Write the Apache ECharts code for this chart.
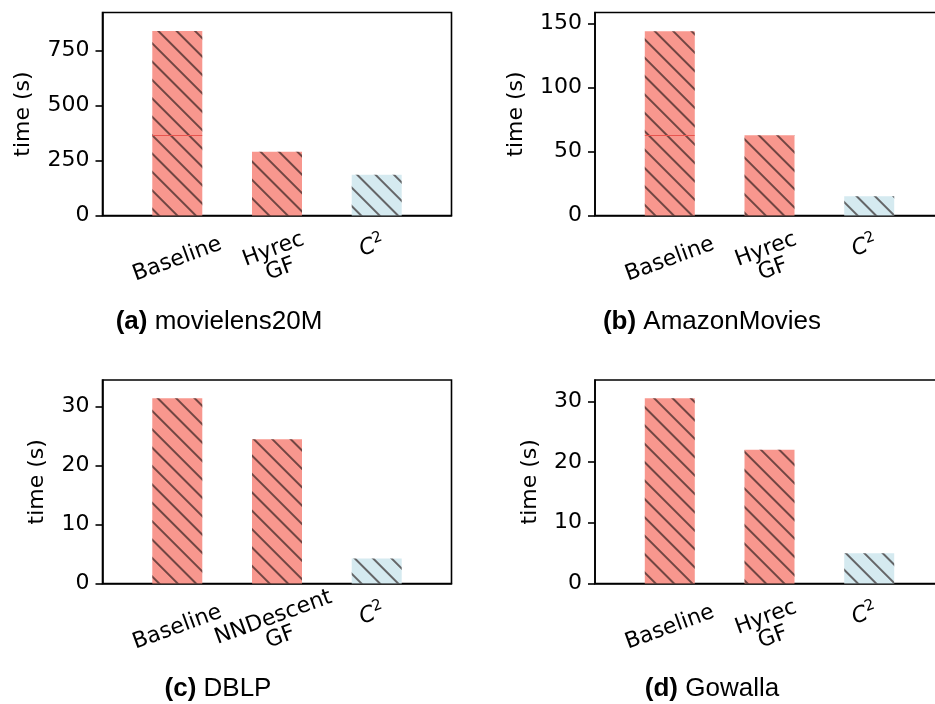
<!DOCTYPE html>
<html>
<head>
<meta charset="utf-8">
<script src="https://cdn.jsdelivr.net/npm/echarts@6/dist/echarts.min.js"></script>
<style>html,body{margin:0;padding:0;background:#fff}#c{width:935px;height:704px}</style>
</head>
<body>
<div id="c"></div>
<script>
// ---- data ----
const categoriesA = ['Baseline', 'Hyrec\nGF', 'C2'];
const categoriesB = ['Baseline', 'Hyrec\nGF', 'C2'];
const categoriesC = ['Baseline', 'NNDescent\nGF', 'C2'];
const categoriesD = ['Baseline', 'Hyrec\nGF', 'C2'];
const valuesA = [840, 290, 185];
const valuesB = [144, 62.7, 15.1];
const valuesC = [31.4, 24.45, 4.24];
const valuesD = [30.5, 22.0, 5.0];
const baselineSplitA = 365;
const baselineSplitB = 62.7;
const yTicksA = [0, 250, 500, 750];
const yTicksB = [0, 50, 100, 150];
const yTicksC = [0, 10, 20, 30];
const yTicksD = [0, 10, 20, 30];
const yMaxA = 924, yMaxB = 158.6, yMaxC = 34.5, yMaxD = 33.5;
const captionTags = ['(a)', '(b)', '(c)', '(d)'];
const captionNames = ['movielens20M', 'AmazonMovies', 'DBLP', 'Gowalla'];
const yAxisTitle = 'time (s)';

// ---- styles ----
const SALMON = '#f8978e';
const LIGHTBLUE = '#d5eaf0';
const FONT = '"DejaVu Sans"';
const FS = 22;
const hatch = {
  symbol: 'rect', symbolSize: 1,
  color: 'rgba(30,20,20,0.62)',
  dashArrayX: [1, 0],
  dashArrayY: [1.7, 10.8],
  rotation: Math.PI / 4
};

const panels = [
  {cats: categoriesA, vals: valuesA, ticks: yTicksA, max: yMaxA, split: baselineSplitA, left: 102.5, top: 12.5, h: 203, gap: 68},
  {cats: categoriesB, vals: valuesB, ticks: yTicksB, max: yMaxB, split: baselineSplitB, left: 595, top: 12.5, h: 203, gap: 68},
  {cats: categoriesC, vals: valuesC, ticks: yTicksC, max: yMaxC, split: null, left: 102.5, top: 380, h: 203.5, gap: 54},
  {cats: categoriesD, vals: valuesD, ticks: yTicksD, max: yMaxD, split: null, left: 595, top: 380, h: 203.5, gap: 54}
];
const captionPos = [[219, 322], [712, 322], [218, 689], [712, 689]];

const grid = [], xAxis = [], yAxis = [], series = [];
panels.forEach((p, i) => {
  grid.push({left: p.left, top: p.top, width: 349, height: p.h, show: true,
    borderColor: '#000', borderWidth: 1.6, backgroundColor: 'transparent', outerBoundsMode: 'none', containLabel: false});
  xAxis.push({type: 'value', gridIndex: i, min: -0.75, max: 2.75,
    axisLine: {show: true, onZero: false, lineStyle: {color: '#000', width: 1.6}},
    axisTick: {show: false}, splitLine: {show: false},
    axisLabel: {
      customValues: [0, 1, 2], hideOverlap: false,
      rotate: 20, align: 'center', verticalAlign: 'middle', margin: 44,
      fontFamily: FONT, fontSize: FS, color: '#000', lineHeight: 21,
      formatter: v => {
        const c = p.cats[Math.round(v)];
        if (c === 'C2') return '{ci|C}{sup|2}';
        return c;
      },
      rich: {
        ci: {fontFamily: FONT, fontStyle: 'italic', fontSize: FS, color: '#000', lineHeight: 21, padding: [0, 0, 28, 0]},
        sup: {fontFamily: FONT, fontSize: 15, color: '#000', lineHeight: 15, padding: [0, 0, 40, 0]}
      }
    }
  });
  yAxis.push({type: 'value', gridIndex: i, min: 0, max: p.max,
    name: yAxisTitle, nameLocation: 'middle', nameGap: p.gap, nameRotate: 90,
    nameTextStyle: {fontFamily: FONT, fontSize: FS, color: '#000'},
    axisLine: {show: true, onZero: false, lineStyle: {color: '#000', width: 1.6}},
    axisTick: {show: true, customValues: p.ticks, length: 7, lineStyle: {color: '#000', width: 1.6}},
    axisLabel: {customValues: p.ticks, margin: 13, fontFamily: FONT, fontSize: FS, color: '#000'},
    splitLine: {show: false}
  });
  const s = {
    type: 'bar', xAxisIndex: i, yAxisIndex: i, barWidth: 50,
    data: p.vals.map((v, k) => ({value: [k, v], itemStyle: {color: k < 2 ? SALMON : LIGHTBLUE}})),
    itemStyle: {decal: hatch},
    silent: true, animation: false
  };
  if (p.split !== null) {
    s.markLine = {silent: true, symbol: 'none', label: {show: false}, animation: false,
      lineStyle: {color: '#e8544e', width: 1, type: 'solid'},
      data: [[{coord: [-0.25, p.split]}, {coord: [0.25, p.split]}]]};
  }
  series.push(s);
});

const graphic = captionPos.map((pos, i) => ({
  type: 'text', x: pos[0], y: pos[1],
  style: {
    text: '{b|' + captionTags[i] + '} ' + captionNames[i],
    align: 'center', verticalAlign: 'middle',
    font: '26px "Liberation Sans"', fill: '#000',
    rich: {b: {fontFamily: 'Liberation Sans', fontSize: 26, fontWeight: 'bold', fill: '#000'}}
  }
}));

const chart = echarts.init(document.getElementById('c'), null, {renderer: 'canvas'});
chart.setOption({animation: false, grid, xAxis, yAxis, series, graphic});
</script>
</body>
</html>
